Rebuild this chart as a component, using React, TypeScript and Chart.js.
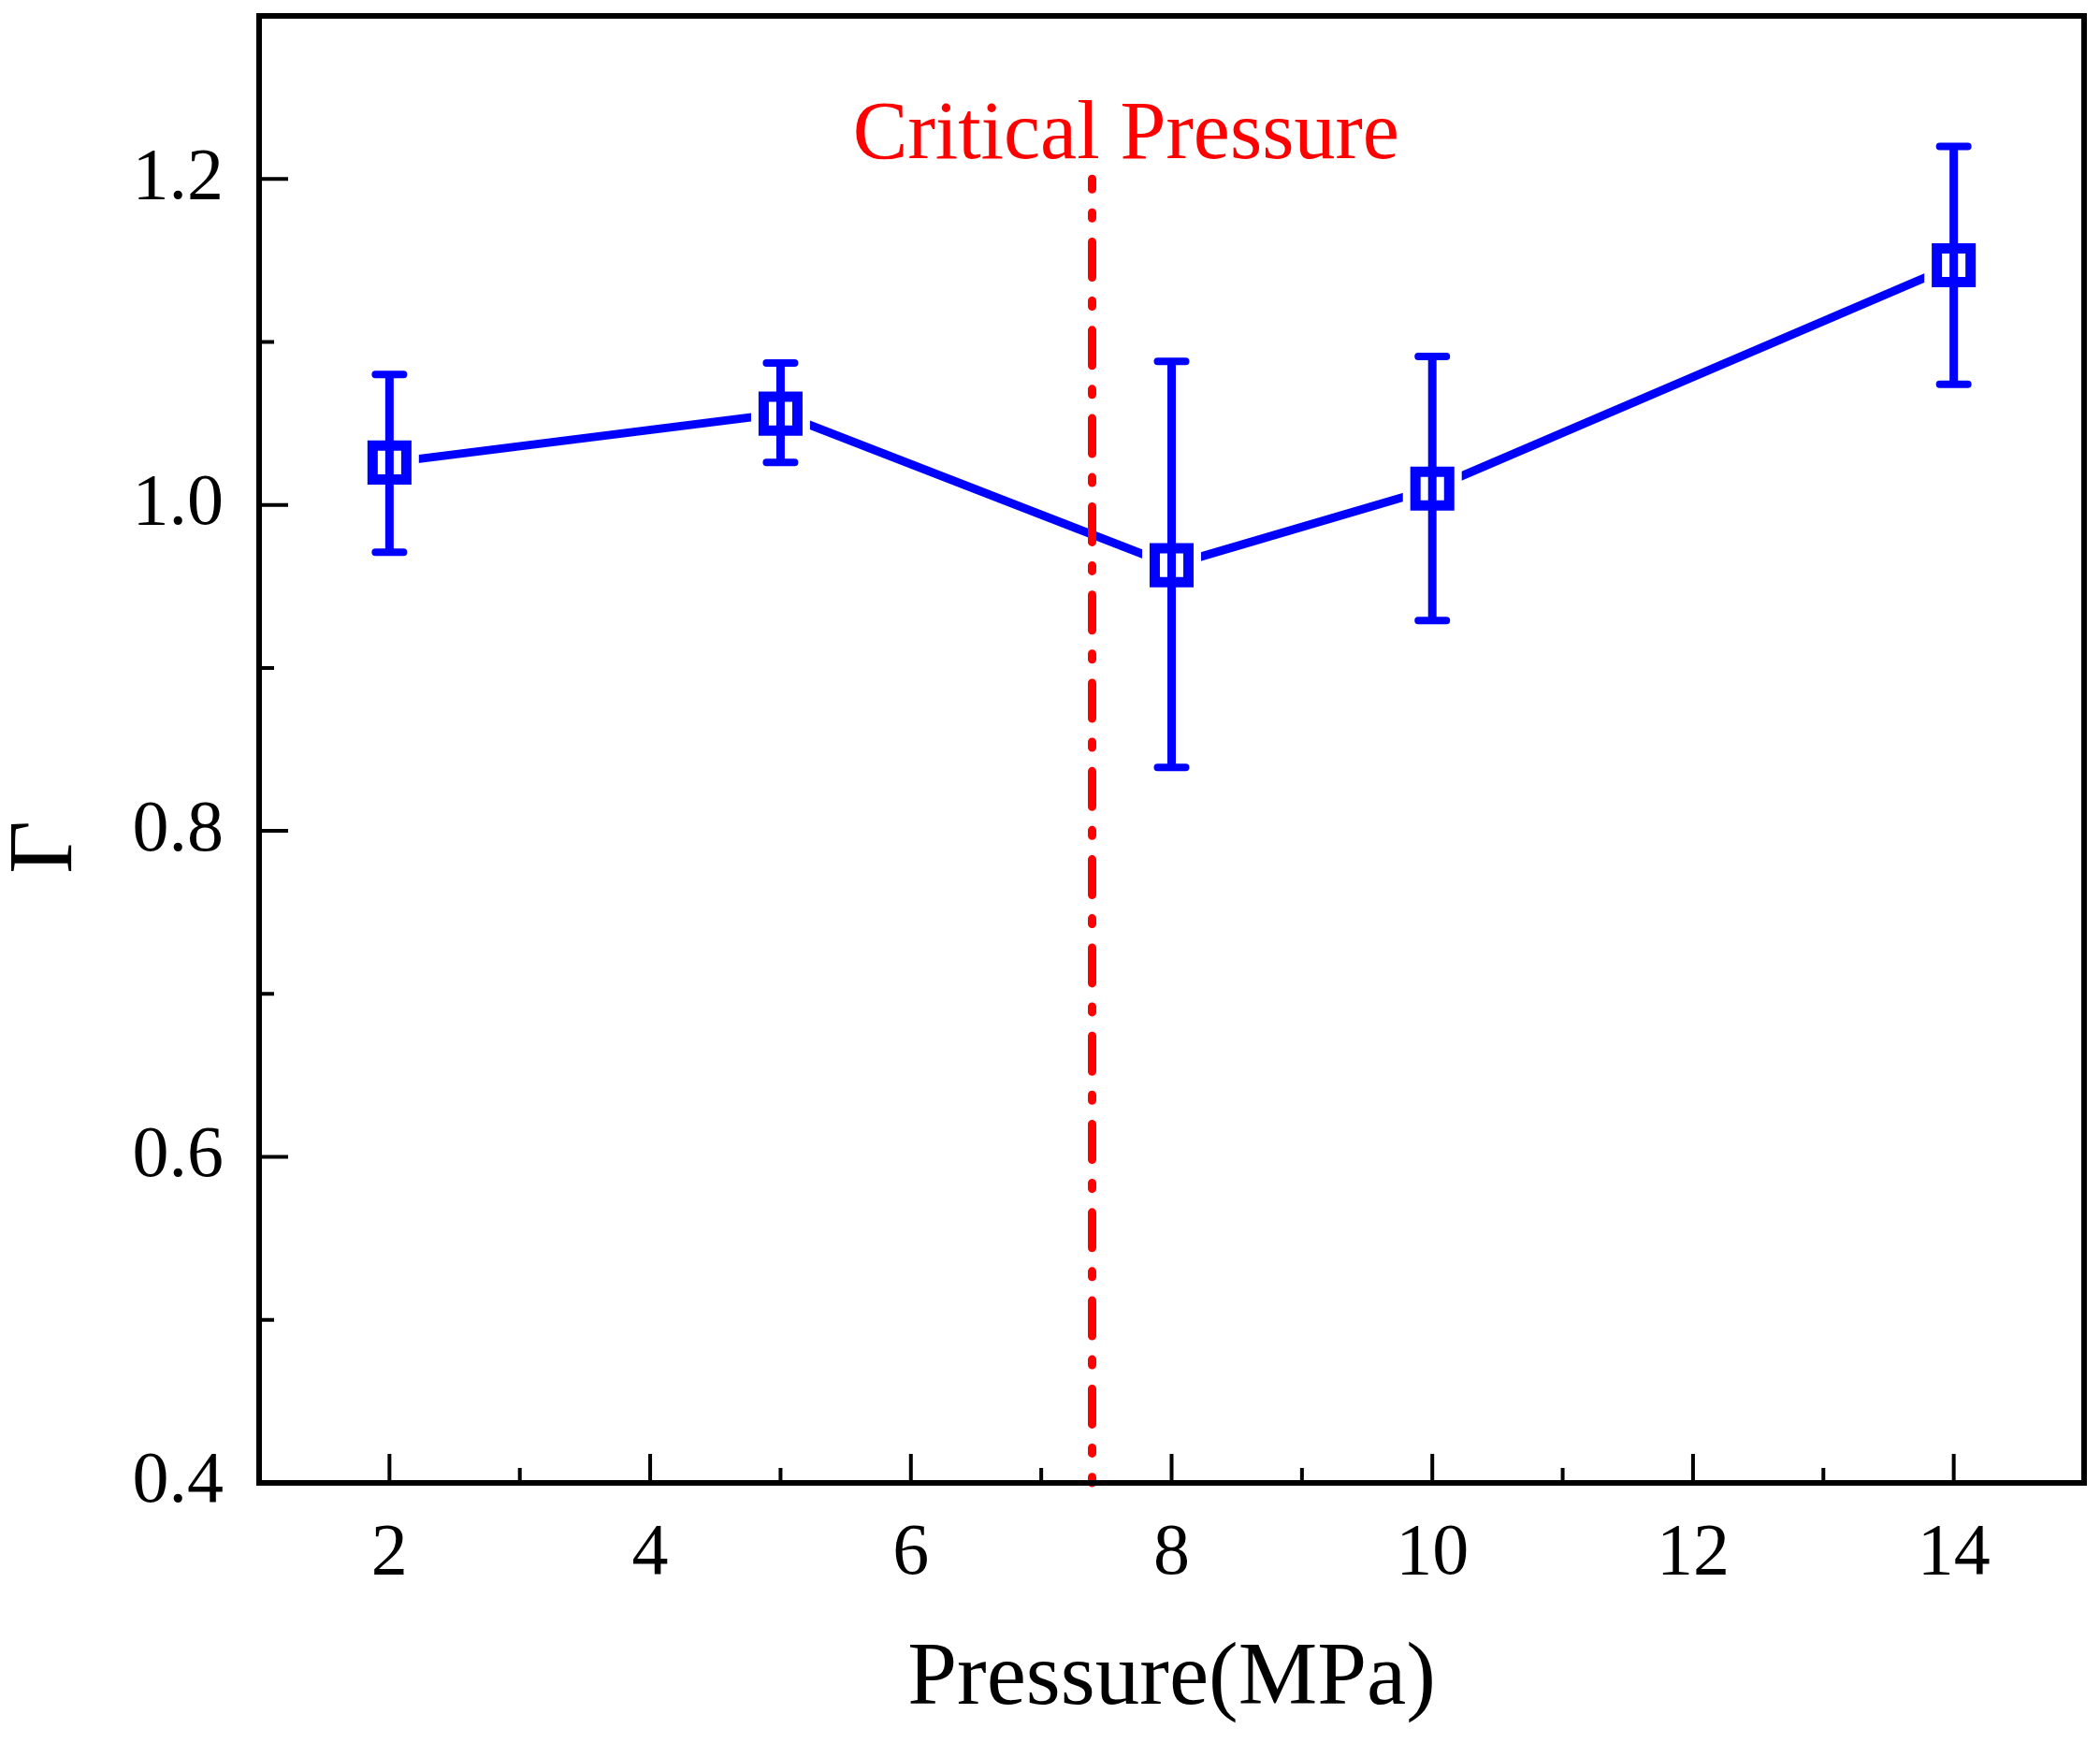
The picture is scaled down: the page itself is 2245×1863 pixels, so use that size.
import React, { useRef, useEffect } from 'react';
import { Chart, registerables } from 'chart.js';

Chart.register(...registerables);

// measured values (Pressure in MPa, Γ with error bar ends)
const pressure = [2, 5, 8, 10, 14];
const gamma = [1.026, 1.056, 0.963, 1.01, 1.147];
const gammaUpper = [1.08, 1.087, 1.088, 1.091, 1.22];
const gammaLower = [0.971, 1.026, 0.839, 0.929, 1.074];

const xMajorTicks = [2, 4, 6, 8, 10, 12, 14];
const xMinorTicks = [3, 5, 7, 9, 11, 13];
const yMajorTicks = [0.4, 0.6, 0.8, 1.0, 1.2];
const yMinorTicks = [0.5, 0.7, 0.9, 1.1];

const criticalPressure = 7.39;
const criticalLabel = 'Critical Pressure';

const BLUE = '#0000FF';
const RED = '#FF0000';
const SERIF = "'Liberation Serif', 'Times New Roman', serif";

const decor = {
  id: 'decor',
  afterDatasetsDraw(chart: any) {
    const { ctx, scales: { x, y } } = chart;
    ctx.save();

    // critical pressure dash-dot line
    const cx = x.getPixelForValue(criticalPressure);
    ctx.strokeStyle = RED;
    ctx.lineWidth = 9;
    ctx.lineCap = 'round';
    ctx.setLineDash([38, 25, 6, 25.3]);
    ctx.lineDashOffset = 27;
    ctx.beginPath();
    ctx.moveTo(cx, y.getPixelForValue(1.2));
    ctx.lineTo(cx, y.getPixelForValue(0.4));
    ctx.stroke();
    ctx.setLineDash([]);

    // error bars
    ctx.strokeStyle = BLUE;
    pressure.forEach((p, i) => {
      const px = x.getPixelForValue(p);
      const hi = y.getPixelForValue(gammaUpper[i]);
      const lo = y.getPixelForValue(gammaLower[i]);
      ctx.lineWidth = 9;
      ctx.lineCap = 'butt';
      ctx.beginPath();
      ctx.moveTo(px, hi);
      ctx.lineTo(px, lo);
      ctx.stroke();
      ctx.lineWidth = 8;
      ctx.lineCap = 'round';
      ctx.beginPath();
      ctx.moveTo(px - 15, hi);
      ctx.lineTo(px + 15, hi);
      ctx.moveTo(px - 15, lo);
      ctx.lineTo(px + 15, lo);
      ctx.stroke();
    });
    ctx.restore();
  },
  afterDraw(chart: any) {
    const { ctx, chartArea: a, scales: { x, y } } = chart;
    ctx.save();

    // frame
    ctx.strokeStyle = '#000';
    ctx.lineWidth = 6;
    ctx.strokeRect(a.left, a.top, a.right - a.left, a.bottom - a.top);

    // inward ticks
    ctx.lineWidth = 4;
    ctx.beginPath();
    xMajorTicks.forEach((v) => {
      const px = x.getPixelForValue(v);
      ctx.moveTo(px, a.bottom);
      ctx.lineTo(px, a.bottom - 31);
    });
    xMinorTicks.forEach((v) => {
      const px = x.getPixelForValue(v);
      ctx.moveTo(px, a.bottom);
      ctx.lineTo(px, a.bottom - 16);
    });
    yMajorTicks.forEach((v) => {
      const py = y.getPixelForValue(v);
      ctx.moveTo(a.left, py);
      ctx.lineTo(a.left + 31, py);
    });
    yMinorTicks.forEach((v) => {
      const py = y.getPixelForValue(v);
      ctx.moveTo(a.left, py);
      ctx.lineTo(a.left + 16, py);
    });
    ctx.stroke();

    // y axis title Γ
    ctx.fillStyle = '#000';
    ctx.font = `98px ${SERIF}`;
    ctx.textAlign = 'center';
    ctx.textBaseline = 'middle';
    ctx.translate(50, y.getPixelForValue(0.79));
    ctx.rotate(-Math.PI / 2);
    ctx.fillText('Γ', 0, 0);
    ctx.setTransform(1, 0, 0, 1, 0, 0);

    // critical pressure label
    ctx.fillStyle = RED;
    ctx.font = `88px ${SERIF}`;
    ctx.textAlign = 'center';
    ctx.textBaseline = 'alphabetic';
    ctx.fillText(criticalLabel, x.getPixelForValue(7.65), y.getPixelForValue(1.213));
    ctx.restore();
  },
};

const App: React.FC = () => {
  const canvasRef = useRef<HTMLCanvasElement>(null);
  const chartRef = useRef<Chart | null>(null);

  useEffect(() => {
    if (!canvasRef.current) return;
    if (chartRef.current) chartRef.current.destroy();

    const points = pressure.map((p, i) => ({ x: p, y: gamma[i] }));

    chartRef.current = new Chart(canvasRef.current, {
      type: 'line',
      data: {
        datasets: [
          {
            // markers on top
            data: points,
            showLine: false,
            pointStyle: 'rect',
            pointRadius: 25.5,
            pointBorderWidth: 11,
            pointBorderColor: BLUE,
            pointBackgroundColor: '#FFFFFF',
            order: 1,
          },
          {
            // white halo so the line stops short of the markers
            data: points,
            showLine: false,
            pointStyle: 'rect',
            pointRadius: 44.5,
            pointBorderWidth: 0,
            pointBackgroundColor: '#FFFFFF',
            pointBorderColor: '#FFFFFF',
            order: 2,
          },
          {
            data: points,
            borderColor: BLUE,
            borderWidth: 9,
            borderCapStyle: 'round',
            pointRadius: 0,
            fill: false,
            order: 3,
          },
        ],
      },
      options: {
        responsive: false,
        animation: false,
        devicePixelRatio: 1,
        layout: { autoPadding: false, padding: { left: 0, top: 17, right: 17, bottom: 0 } },
        plugins: {
          legend: { display: false },
          tooltip: { enabled: false },
        },
        scales: {
          x: {
            type: 'linear',
            min: 1,
            max: 15,
            grid: { display: false, drawTicks: false },
            border: { display: false },
            afterBuildTicks: (s: any) => {
              s.ticks = xMajorTicks.map((v) => ({ value: v }));
            },
            afterFit: (s: any) => {
              s.height = 278;
              s.paddingLeft = 0;
              s.paddingRight = 0;
            },
            ticks: {
              color: '#000',
              padding: 30,
              font: { family: SERIF, size: 78 },
              callback: (v: any) => String(v),
            },
            title: {
              display: true,
              text: 'Pressure(MPa)',
              color: '#000',
              font: { family: SERIF, size: 95 },
              padding: { top: 0, bottom: 10 },
            },
          },
          y: {
            type: 'linear',
            min: 0.4,
            max: 1.3,
            grid: { display: false, drawTicks: false },
            border: { display: false },
            afterBuildTicks: (s: any) => {
              s.ticks = yMajorTicks.map((v) => ({ value: v }));
            },
            afterFit: (s: any) => {
              s.width = 277;
              s.paddingTop = 0;
              s.paddingBottom = 0;
            },
            ticks: {
              color: '#000',
              padding: 38,
              font: { family: SERIF, size: 78 },
              callback: (v: any) => Number(v).toFixed(1),
            },
          },
        },
      },
      plugins: [decor],
    });

    return () => {
      if (chartRef.current) {
        chartRef.current.destroy();
        chartRef.current = null;
      }
    };
  }, []);

  return (
    <div style={{ position: 'absolute', left: 0, top: 0, width: 2245, height: 1863, background: '#fff' }}>
      <canvas ref={canvasRef} width={2245} height={1863} style={{ width: 2245, height: 1863 }} />
    </div>
  );
};

export default App;
